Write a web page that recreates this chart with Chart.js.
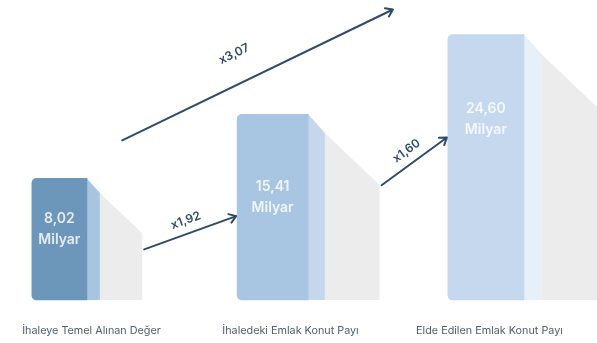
<!DOCTYPE html>
<html>
<head>
<meta charset="utf-8">
<script src="https://cdn.jsdelivr.net/npm/chart.js@4.4.1/dist/chart.umd.min.js"></script>
<style>
  html, body { margin: 0; padding: 0; background: #fff; }
  #wrap { width: 597px; height: 343px; }
</style>
</head>
<body>
<div id="wrap"><canvas id="chart"></canvas></div>
<script>
  // Data
  const categories = ['İhaleye Temel Alınan Değer', 'İhaledeki Emlak Konut Payı', 'Elde Edilen Emlak Konut Payı'];
  const values = [8.02, 15.41, 24.60];
  const valueLabels = ['8,02', '15,41', '24,60'];
  const unitLabel = 'Milyar';
  const stepRatios = ['x1,92', 'x1,60'];   // bar i -> bar i+1
  const totalRatio = 'x3,07';              // first -> last

  // Styling
  const frontColors = ['#6c96ba', '#a8c5e1', '#c5d8ed'];
  const sideColors = ['#a7c4e0', '#c4d7ec', '#e7eff8'];
  const barWidths = [55, 71, 76];
  const shadowColor = '#ececec';
  const arrowColor = '#2f4a6c';
  const fontFamily = 'Inter, "Noto Sans", sans-serif';

  const Y_MIN = -6, Y_MAX = 28;

  // geometry of the front face + the drawn side face and floor shadow
  function geoms(chart) {
    return values.map((v, i) => {
      const el = chart.getDatasetMeta(i).data[0];
      const w = el.width;
      const left = el.x - w / 2, right = el.x + w / 2;
      const side = w * 0.236, shadow = w * 0.77;
      const sideTop = el.y + side * 1.12;
      return {
        left, right, top: el.y, bottom: el.base, cx: el.x, h: el.base - el.y,
        sideRight: right + side, sideTop,
        shadowRight: right + side + shadow, shadowTop: sideTop + shadow * 0.95
      };
    });
  }

  function drawArrow(ctx, x1, y1, x2, y2) {
    const a = Math.atan2(y2 - y1, x2 - x1);
    ctx.beginPath();
    ctx.moveTo(x1, y1);
    ctx.lineTo(x2, y2);
    ctx.moveTo(x2 - 8 * Math.cos(a - 0.6), y2 - 8 * Math.sin(a - 0.6));
    ctx.lineTo(x2, y2);
    ctx.lineTo(x2 - 8 * Math.cos(a + 0.6), y2 - 8 * Math.sin(a + 0.6));
    ctx.stroke();
  }

  function labelAlong(ctx, text, x1, y1, x2, y2, t, off) {
    const a = Math.atan2(y2 - y1, x2 - x1);
    const x = x1 + (x2 - x1) * t + Math.sin(a) * off;
    const y = y1 + (y2 - y1) * t - Math.cos(a) * off;
    ctx.save();
    ctx.translate(x, y);
    ctx.rotate(a);
    ctx.fillText(text, 0, 0);
    ctx.restore();
  }

  const decor = {
    id: 'decor',
    beforeDatasetsDraw(chart) {
      const ctx = chart.ctx;
      ctx.save();
      geoms(chart).forEach((g, i) => {
        ctx.fillStyle = shadowColor;
        ctx.beginPath();
        ctx.moveTo(g.sideRight, g.sideTop);
        ctx.lineTo(g.shadowRight, g.shadowTop);
        ctx.lineTo(g.shadowRight, g.bottom);
        ctx.lineTo(g.sideRight, g.bottom);
        ctx.closePath();
        ctx.fill();

        ctx.fillStyle = sideColors[i];
        ctx.beginPath();
        ctx.moveTo(g.right - 1, g.top);
        ctx.lineTo(g.right, g.top);
        ctx.lineTo(g.sideRight, g.sideTop);
        ctx.lineTo(g.sideRight, g.bottom);
        ctx.lineTo(g.right - 1, g.bottom);
        ctx.closePath();
        ctx.fill();
      });
      ctx.restore();
    },
    afterDatasetsDraw(chart) {
      const ctx = chart.ctx;
      const gs = geoms(chart);
      const textY = g => g.top + Math.min(74, g.h / 2 - 20);
      ctx.save();

      // value labels inside the bars
      ctx.fillStyle = 'rgba(255,255,255,0.82)';
      ctx.font = '600 14px ' + fontFamily;
      ctx.textAlign = 'center';
      ctx.textBaseline = 'middle';
      gs.forEach((g, i) => {
        const y = textY(g);
        ctx.fillText(valueLabels[i], g.cx, y);
        ctx.fillText(unitLabel, g.cx, y + 21);
      });

      // arrows
      ctx.strokeStyle = arrowColor;
      ctx.fillStyle = arrowColor;
      ctx.lineWidth = 2;
      ctx.lineCap = 'round';
      ctx.lineJoin = 'round';
      ctx.font = '600 12px ' + fontFamily;
      stepRatios.forEach((txt, i) => {
        const a = gs[i], b = gs[i + 1];
        const x1 = a.shadowRight + 2, y1 = a.top + 71;
        const x2 = b.left - 1, y2 = textY(b) + 29;
        drawArrow(ctx, x1, y1, x2, y2);
        labelAlong(ctx, txt, x1, y1, x2, y2, 0.5, 13);
      });
      const f = gs[0], l = gs[gs.length - 1];
      const X1 = f.shadowRight - 20, Y1 = f.top - 38;
      const X2 = l.left - 55, Y2 = l.top - 25;
      drawArrow(ctx, X1, Y1, X2, Y2);
      labelAlong(ctx, totalRatio, X1, Y1, X2, Y2, 0.46, 29);
      ctx.restore();
    }
  };

  new Chart(document.getElementById('chart').getContext('2d'), {
    type: 'bar',
    data: {
      datasets: values.map((v, i) => ({
        label: categories[i],
        data: [{ x: i, y: v }],
        backgroundColor: frontColors[i],
        barThickness: barWidths[i],
        borderRadius: { topLeft: 5, bottomLeft: 5, topRight: 0, bottomRight: 0 },
        borderSkipped: false,
        base: Y_MIN,
        grouped: false,
        clip: false
      }))
    },
    options: {
      responsive: true,
      maintainAspectRatio: false,
      animation: false,
      layout: { padding: { top: 5, bottom: 6, left: 0, right: 0 } },
      plugins: { legend: { display: false }, tooltip: { enabled: false } },
      scales: {
        x: { type: 'linear', display: false, offset: false, min: -0.2785, max: 2.521 },
        x2: {
          type: 'category', axis: 'x', position: 'bottom', labels: categories, offset: true,
          grid: { display: false, drawTicks: true, tickLength: 24 }, border: { display: false },
          ticks: { color: '#4f5d6e', font: { family: fontFamily, size: 10.8 }, padding: 0, labelOffset: -8 }
        },
        y: { display: false, min: Y_MIN, max: Y_MAX }
      }
    },
    plugins: [decor]
  });
</script>
</body>
</html>
